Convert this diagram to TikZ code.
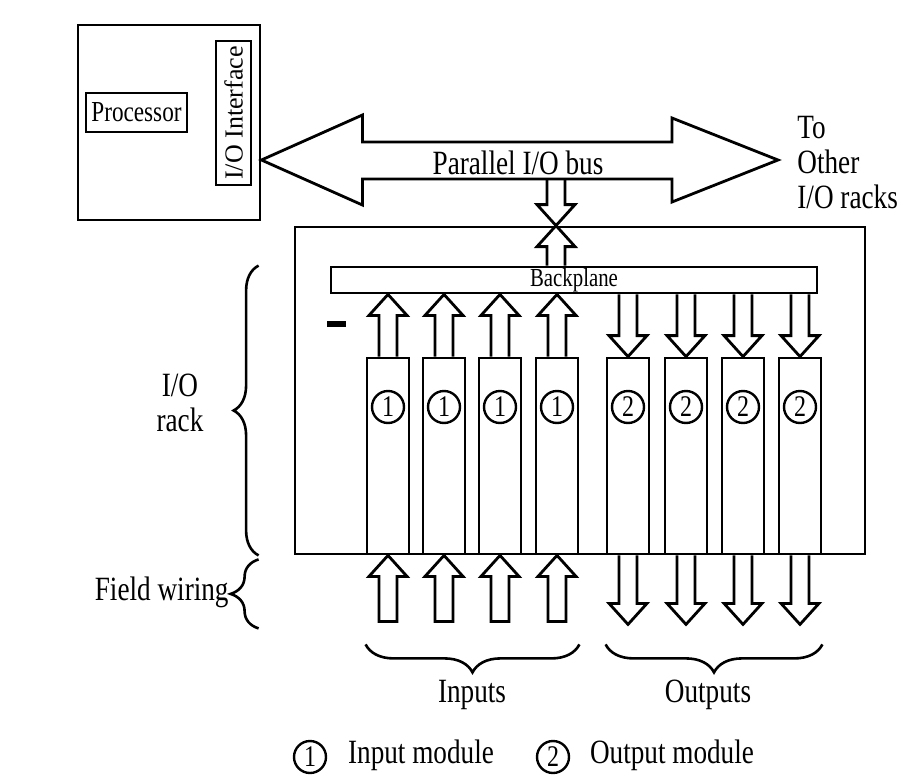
\documentclass[tikz,border=0pt]{standalone}
\usepackage{fontspec}
\setmainfont{Liberation Serif}[FakeStretch=0.8]
\newfontfamily\ifacefont{Liberation Serif}
\usetikzlibrary{calc,positioning,decorations.pathreplacing}

% hollow block arrows: [closing] {tail} {tip}
\newcommand{\fatup}[3][]{%
  \draw[fat] ($(#2)+(-9,0)$) -- ($(#3)+(-9,21)$) -- ($(#3)+(-19,21)$) -- (#3)
    -- ($(#3)+(19,21)$) -- ($(#3)+(9,21)$) -- ($(#2)+(9,0)$) #1;}
\newcommand{\fatdown}[3][]{%
  \draw[fat] ($(#2)+(-9,0)$) -- ($(#3)+(-9,-21)$) -- ($(#3)+(-19,-21)$) -- (#3)
    -- ($(#3)+(19,-21)$) -- ($(#3)+(9,-21)$) -- ($(#2)+(9,0)$) #1;}

\begin{document}
\begin{tikzpicture}[
  x=0.5pt, y=-0.5pt,
  box/.style={rectangle, draw, line width=1.4pt, inner sep=0},
  module/.style={box, minimum width=21pt, minimum height=98pt},
  numc/.style={circle, draw, line width=1.2pt, inner sep=0, minimum size=16pt, font=\fontsize{15}{15}\selectfont},
  fat/.style={line width=1.4pt},
  brace/.style={decorate, decoration={brace, amplitude=#1}, line width=1.3pt},
  small/.style={font=\fontsize{13}{13}\selectfont},
  font=\fontsize{17}{17.5}\selectfont
]
\useasboundingbox (0,0) rectangle (909,781);

% processor side
\node[box, minimum width=91pt, minimum height=97.5pt] (cpu) at (169,122.5) {};
\node[box, font=\fontsize{14.5}{14.5}\selectfont, minimum width=50.5pt, minimum height=19.5pt] (proc) at (136.5,112.5) {Processor};
\node[box, rotate=90, minimum width=72pt, minimum height=17.5pt, font=\ifacefont\fontsize{13}{13}\selectfont] (iface) at (233.5,113) {I/O Interface};

% parallel bus
\coordinate (busR) at (778,160);
\coordinate (busL) at (cpu.east |- busR);
\draw[fat] (busL) -- ++(101,-45) -- ++(0,27) -- ($(busR)+(-106,-18)$) -- ++(0,-24) -- (busR)
  -- ++(-106,42) -- ++(0,-23) -- ($(busL)+(101,19)$) -- ++(0,26) -- cycle;
\node (buslbl) at (518,163) {Parallel I/O bus};
\node[align=left, anchor=west, inner sep=0] (other) at (797,163) {To\\Other\\I/O racks};

% rack and backplane
\node[box, minimum width=285pt, minimum height=163.5pt] (rack) at (580,390.5) {};
\node[box, small, minimum width=243pt, minimum height=13pt] (bp) at (574,280) {Backplane};
\coordinate (drop) at (556,179);
\fatdown{drop}{drop |- rack.north}
\fatup{drop |- bp.north}{drop |- rack.north}
\draw[line width=3pt] (327,324) -- (346,324);

% modules
\node[module, label={[numc, yshift=24.5pt]center:1}] (m1) at (388,456) {};
\node[module, label={[numc, yshift=24.5pt]center:1}] (m2) at (444,456) {};
\node[module, label={[numc, yshift=24.5pt]center:1}] (m3) at (500,456) {};
\node[module, label={[numc, yshift=24.5pt]center:1}] (m4) at (557,456) {};
\node[module, label={[numc, yshift=24.5pt]center:2}] (m5) at (628,456) {};
\node[module, label={[numc, yshift=24.5pt]center:2}] (m6) at (686,456) {};
\node[module, label={[numc, yshift=24.5pt]center:2}] (m7) at (743,456) {};
\node[module, label={[numc, yshift=24.5pt]center:2}] (m8) at (800,456) {};

\foreach \i in {1,...,4}{
  \fatup{m\i.north}{m\i.north |- bp.south}
  \coordinate (fw\i) at ($(m\i.south)+(0,66)$);
  \fatup[-- cycle]{fw\i}{m\i.south}
}
\foreach \i in {5,...,8}{
  \fatdown{m\i.north |- bp.south}{m\i.north}
  \coordinate (fw\i) at ($(m\i.south)+(0,69)$);
  \fatdown{m\i.south}{fw\i}
}

% braces and labels
\draw[brace=12.5pt] ($(rack.south west)+(-35,0)$) -- ($(rack.south west |- bp.north)+(-35,0)$);
\node[align=center] (racklbl) at (180,403) {I/O\\rack};
\draw[brace=14pt] ($(rack.south west)+(-35,73)$) -- ($(rack.south west)+(-35,4)$);
\node[anchor=east, inner sep=0] (fieldlbl) at (229,592) {Field wiring};
\draw[brace=14pt] ($(m4.south east)+(0,89)$) -- ($(m1.south west)+(0,89)$);
\draw[brace=14pt] ($(m8.south east)+(0,89)$) -- ($(m5.south west)+(0,89)$);
\node (inlbl) at (472,695) {Inputs};
\node (outlbl) at (708,695) {Outputs};

% legend
\node[numc] (key1) at (310,757) {1};
\node (key1txt) at (421,755) {Input module};
\node[numc] (key2) at (553,757) {2};
\node (key2txt) at (672,755) {Output module};
\end{tikzpicture}
\end{document}
